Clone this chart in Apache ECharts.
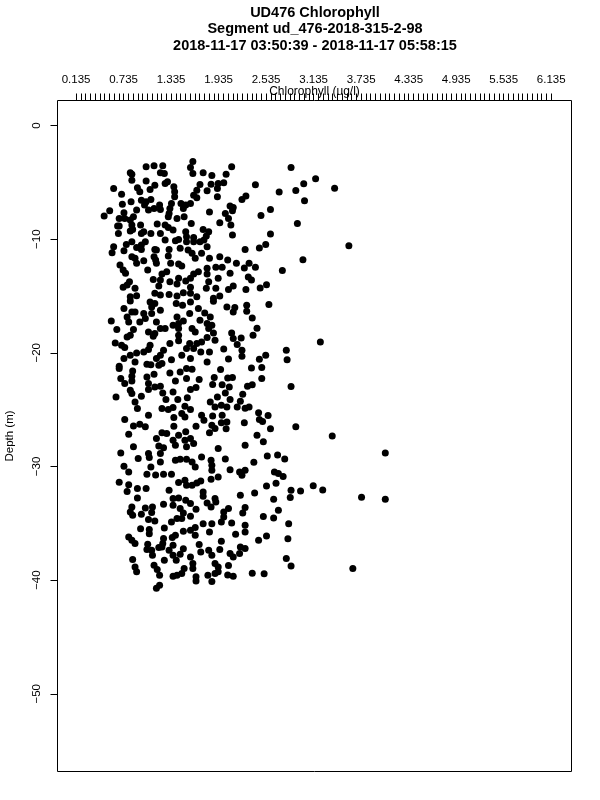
<!DOCTYPE html>
<html>
<head>
<meta charset="utf-8">
<style>html,body{margin:0;padding:0;background:#fff}#c{width:600px;height:800px}</style>
<script src="https://cdn.jsdelivr.net/npm/echarts@6/dist/echarts.min.js"></script>
</head>
<body>
<div id="c"></div>
<script>
const titleLines = ['UD476 Chlorophyll', 'Segment ud_476-2018-315-2-98', '2018-11-17 03:50:39 - 2018-11-17 05:58:15'];
const xLabelTicks = [0.135, 0.735, 1.335, 1.935, 2.535, 3.135, 3.735, 4.335, 4.935, 5.535, 6.135];
const yLabelTicks = [0, -10, -20, -30, -40, -50];

const chlUpperLeft = [1.61,1.02,1.12,1.23,1.58,2.10,1.61,1.74,1.85,2.03,.82,.84,1.20,1.25,.84,1.02,1.29,1.26,1.13,.61,
1.70,1.84,2.00,1.93,1.92,1.07,.91,.94,.71,1.37,1.38,1.38,1.66,1.79,1.62,1.66,1.92,.72,.83,.96,
1.02,1.08,1.00,1.05,1.12,1.19,1.20,1.34,1.32,1.31,1.30,1.46,1.52,1.58,1.49,1.82,2.08,2.12,2.02,2.06,
2.09,2.11,.49,.56,.74,.90,.68,.75,.82,.86,.66,.68,.84,.95,1.16,.67,.82,.85,.96,.99,
1.08,1.20,1.26,1.30,1.36,1.41,1.50,1.59,1.95,2.11,1.74,1.81,1.52,1.53,1.53,1.62,1.62,1.78,1.75,1.70,
.84,.77,.61,.59,.74,1.01,.96,.90,.96,1.13,1.15,1.12,1.14,1.26,1.39,1.43,1.45,1.31,1.30,1.55,
1.60,1.64,1.72,1.79,1.82,1.95,2.05,2.16,.69,.73,.76,.88,.84,.90,.99,1.15,1.33,1.43,1.47,1.04,
1.68,1.62,1.58,1.79,1.79,1.90,1.98,2.08,1.28,1.22,1.11,1.20,1.18,1.43,1.32,1.41,1.52,1.81,1.93,.81,
.78,.73,.88,1.58,1.78,1.90,2.12,2.06,1.13,1.20,1.31,1.41,1.49,1.58,1.66,1.95,.82,.90,1.87];
const depthUpperLeft = [-3.17,-3.64,-3.55,-3.55,-3.69,-3.64,-4.22,-4.16,-4.40,-4.28,-4.16,-4.28,-4.16,-4.22,-4.81,-4.89,-4.95,-5.10,-5.25,-5.54,
-5.19,-5.16,-5.04,-5.10,-5.54,-5.63,-5.48,-5.83,-6.04,-5.39,-5.83,-6.27,-5.69,-5.74,-6.13,-6.36,-6.27,-6.92,-6.71,-6.57,
-6.71,-6.51,-7.00,-7.44,-7.30,-7.00,-7.39,-6.86,-7.30,-7.74,-8.03,-6.86,-7.00,-6.86,-7.30,-7.62,-7.09,-7.21,-7.74,-8.18,
-8.76,-7.50,-7.97,-7.50,-7.68,-7.44,-8.18,-8.18,-8.32,-8.03,-8.85,-8.85,-8.76,-8.76,-8.67,-9.50,-9.29,-9.14,-9.50,-9.35,
-9.50,-9.50,-8.76,-8.97,-9.20,-8.18,-8.03,-8.62,-8.56,-9.64,-9.14,-9.35,-9.35,-9.79,-10.23,-9.85,-10.23,-9.73,-10.08,-10.23,
-10.23,-10.46,-10.67,-11.19,-11.02,-10.23,-10.52,-10.73,-10.90,-10.90,-10.96,-11.55,-11.84,-10.08,-10.14,-10.02,-10.81,-10.90,-11.49,-10.96,
-11.25,-11.69,-11.25,-10.67,-11.69,-11.55,-11.84,-12.13,-12.28,-12.72,-13.01,-11.69,-11.55,-12.13,-11.90,-12.13,-12.13,-12.19,-12.37,-12.72,
-12.86,-13.07,-13.45,-12.57,-13.07,-12.48,-12.48,-13.01,-12.86,-13.07,-13.54,-13.60,-14.12,-13.45,-13.74,-13.95,-13.69,-13.74,-13.45,-13.74,
-14.04,-14.24,-14.33,-14.24,-14.33,-14.33,-14.12,-14.42,-14.77,-14.92,-14.86,-15.00,-14.71,-14.77,-15.06,-15.00,-15.06,-14.97,-15.21];

const chlMiddleLeft = [.82,1.07,1.13,1.09,1.40,1.48,1.58,1.87,2.04,2.14,2.12,.74,.84,.88,.78,.80,.99,1.09,1.20,.94,
1.01,1.57,1.68,1.41,1.49,1.43,1.76,1.83,1.70,1.79,1.85,1.81,.58,1.15,1.20,1.26,1.36,1.43,1.60,1.64,
.65,.86,.82,.78,1.05,1.13,1.11,1.87,2.10,2.12,1.89,1.43,1.43,1.79,1.72,1.66,.63,.71,.75,1.32,
1.07,1.05,.99,1.57,1.53,1.47,1.62,2.17,2.00,1.71,1.82,2.06,1.79,1.24,1.20,1.15,.90,.82,.74,.88,
1.58,1.34,1.22,1.03,1.08,1.18,.68,.68,.85,.84,.84,.70,.75,1.03,1.12,1.05,1.05,1.13,1.20,1.32,
1.45,1.53,1.60,1.53,1.96,1.39,1.69,1.88,2.05,2.11,1.86,1.98,2.07,1.58,1.65,.82,.84,.64,.96,.88,
.91,1.23,1.36,1.27,1.42,1.54,2.02,1.92,1.83,2.08,2.17,1.97,1.89,2.04,1.22,1.30,1.36,1.51,1.58,1.47,
1.51,1.05,1.98,1.86,1.72,1.75,.75,1.37,.86,.94,1.01,1.37,1.65,1.97,2.04,1.85,1.89,2.03,.80,1.82,
1.52,1.22,1.28,1.15,1.43,1.36,.86,1.18,1.24,1.39,1.51,1.58,1.62,1.53,1.93];
const depthMiddleLeft = [-15.44,-15.53,-15.67,-15.97,-15.67,-15.82,-15.53,-15.47,-15.97,-16.02,-16.41,-16.11,-16.41,-16.41,-16.85,-17.28,-16.55,-16.55,-16.26,-17.28,
-16.99,-16.55,-16.11,-16.85,-17.20,-17.43,-16.49,-16.85,-17.14,-17.43,-17.58,-17.87,-17.20,-17.28,-17.87,-17.87,-17.58,-17.87,-17.87,-18.16,
-17.96,-17.96,-18.46,-18.60,-18.16,-18.31,-18.54,-18.25,-18.25,-18.75,-18.90,-18.46,-18.95,-18.66,-19.04,-19.19,-19.13,-19.34,-19.54,-19.19,
-19.34,-19.72,-19.92,-19.19,-19.63,-20.21,-19.63,-19.28,-19.66,-19.92,-19.92,-20.54,-20.80,-19.78,-20.21,-20.51,-20.01,-20.21,-20.51,-20.80,
-20.51,-20.60,-20.95,-21.01,-21.06,-21.09,-21.18,-21.39,-21.59,-22.06,-22.47,-22.27,-22.71,-22.12,-21.88,-22.71,-23.23,-23.00,-22.94,-21.77,
-21.68,-21.39,-21.45,-22.27,-21.47,-22.47,-22.35,-22.18,-22.21,-22.18,-22.79,-22.82,-23.00,-23.23,-23.06,-23.29,-23.58,-23.88,-23.82,-24.32,
-24.90,-23.53,-23.44,-24.11,-24.11,-23.96,-23.53,-23.88,-24.32,-24.11,-24.76,-24.61,-24.76,-24.76,-24.90,-24.99,-24.81,-24.70,-24.99,-25.34,
-25.64,-25.49,-25.49,-25.55,-25.49,-25.93,-25.87,-25.69,-26.43,-26.28,-26.51,-26.46,-26.46,-26.16,-26.08,-26.37,-26.66,-26.69,-27.16,-27.04,
-26.95,-27.04,-27.10,-27.54,-27.25,-27.69,-28.27,-28.21,-28.36,-28.13,-27.69,-27.54,-27.98,-28.27,-28.42];

const chlLowerLeft = [.70,.92,1.05,1.06,1.20,1.20,1.39,1.45,1.53,1.60,1.64,1.72,1.84,1.85,1.85,2.02,.74,.80,1.08,1.03,
1.14,1.24,1.34,2.08,2.20,1.84,1.93,.68,.80,1.43,1.51,1.53,1.60,1.66,1.71,.78,.91,1.02,1.31,.91,
1.74,1.74,1.36,1.43,1.52,1.58,1.79,1.84,1.89,1.90,.84,.82,.85,1.01,1.10,1.09,1.24,.96,1.65,1.36,
1.45,1.49,1.58,2.06,2.00,1.05,1.13,1.34,1.41,1.47,1.74,1.85,2.00,1.97,2.10,.95,1.06,1.06,1.25,1.49,
1.58,1.64,1.64,1.39,1.35,1.82,2.15,.80,.84,.88,1.24,1.23,1.97,1.04,1.03,1.09,1.10,1.18,1.22,1.36,
1.31,1.36,1.40,1.45,1.49,1.69,1.71,1.81,1.85,1.95,2.20,2.12,2.08,1.58,.85,1.25,.88,.90,1.12,1.16,
1.19,1.61,1.61,1.89,1.93,2.06,1.93,1.89,1.50,1.47,1.41,1.36,1.80,2.05,2.12,1.65,1.65,1.85,1.19,1.15];
const depthLowerLeft = [-28.81,-29.31,-28.87,-29.22,-28.87,-29.61,-29.46,-29.37,-29.37,-29.61,-30.05,-29.17,-29.46,-29.90,-30.34,-29.34,-29.99,-30.48,-30.05,-30.69,
-30.75,-30.69,-30.69,-30.28,-30.48,-31.13,-30.92,-31.39,-31.60,-31.42,-31.22,-31.66,-31.66,-31.45,-31.28,-32.21,-31.95,-31.95,-32.10,-32.77,
-32.24,-32.62,-32.83,-32.77,-32.98,-33.27,-33.21,-33.56,-32.83,-33.12,-33.56,-34.00,-34.29,-33.65,-33.56,-34.06,-33.33,-34.21,-33.77,-33.41,
-33.71,-34.09,-34.38,-33.71,-34.00,-34.67,-34.79,-34.88,-34.59,-34.59,-35.03,-35.03,-34.44,-34.88,-34.97,-35.47,-35.55,-35.91,-35.41,-35.70,
-35.61,-35.38,-36.05,-36.05,-36.26,-35.76,-35.96,-36.20,-36.49,-36.78,-36.34,-36.78,-36.58,-36.84,-37.31,-37.37,-37.81,-37.14,-37.08,-36.93,
-37.37,-37.81,-38.25,-37.72,-37.25,-36.87,-37.52,-37.37,-37.81,-37.31,-37.66,-37.96,-37.66,-37.96,-38.19,-38.25,-38.84,-39.27,-38.69,-39.07,
-39.57,-38.54,-38.98,-38.54,-38.84,-38.72,-39.27,-39.42,-38.98,-39.42,-39.57,-39.66,-39.57,-39.54,-39.66,-39.71,-40.07,-40.12,-40.45,-40.71];

const chlUpperRight = [2.85,2.40,2.23,2.28,2.70,2.91,3.01,3.16,3.40,3.02,2.47,2.59,2.93,2.59,3.58,2.53,2.45,2.27,3.00,2.32,2.26,2.40,2.74,2.31,2.35,2.54,2.46,2.28];
const depthUpperRight = [-3.69,-5.22,-6.51,-6.21,-5.86,-5.72,-5.13,-4.69,-5.51,-6.62,-7.91,-7.39,-8.62,-9.55,-10.58,-10.46,-10.78,-10.90,-11.81,-12.13,-12.54,-12.48,-12.75,-13.33,-13.60,-14.01,-14.30,-14.42];

const chlMiddleRight = [2.29,2.57,2.29,2.36,2.42,2.37,2.22,3.22,2.79,2.23,2.23,2.53,2.45,2.80,2.35,2.48,2.48,2.30,2.36,2.85,2.24,2.21,2.27,2.32,2.44,2.56,2.45,2.49,2.26,2.59,2.91,2.42,3.37,2.50,2.27];
const depthMiddleRight = [-15.82,-15.76,-16.35,-16.93,-17.84,-18.46,-18.69,-19.04,-19.78,-19.78,-20.30,-20.21,-20.57,-20.62,-21.33,-21.30,-22.27,-22.94,-22.82,-22.97,-23.64,-24.26,-24.87,-24.76,-25.28,-25.52,-25.87,-26.05,-26.16,-26.69,-26.51,-27.25,-27.31,-27.83,-28.13];

const chlLowerRight = [4.04,2.55,2.68,2.77,2.38,2.27,2.23,2.64,2.69,2.75,2.66,2.54,2.85,2.97,3.13,3.25,2.39,3.74,4.04,2.84,2.63,2.21,2.27,2.24,2.69,2.50,2.63,2.82,2.27,2.27,2.54,2.44,2.81,2.27,2.21,2.79,2.85,3.63,2.36,2.51];
const depthLowerRight = [-28.81,-29.08,-28.99,-29.34,-29.63,-30.34,-30.78,-30.48,-30.63,-30.89,-31.48,-31.72,-32.10,-32.15,-31.69,-32.07,-32.33,-32.71,-32.89,-32.74,-32.89,-32.54,-33.62,-34.09,-33.85,-34.41,-34.53,-35.03,-35.17,-35.76,-36.11,-36.49,-36.37,-37.22,-37.08,-38.10,-38.75,-38.98,-39.39,-39.45];

const chlorophyll = [].concat(chlUpperLeft, chlMiddleLeft, chlLowerLeft, chlUpperRight, chlMiddleRight, chlLowerRight);
const depth = [].concat(depthUpperLeft, depthMiddleLeft, depthLowerLeft, depthUpperRight, depthMiddleRight, depthLowerRight);
const points = chlorophyll.map((c, i) => [c, depth[i]]);

const minorStep = 0.06;
const xMinorTicks = [];
for (let i = 0; i <= 100; i++) xMinorTicks.push(+(xLabelTicks[0] + i * minorStep).toFixed(3));

const font = '"Liberation Sans", Helvetica, Arial, sans-serif';
const chart = echarts.init(document.getElementById('c'), null, {renderer: 'canvas'});
chart.setOption({
  animation: false,
  backgroundColor: '#fff',
  title: titleLines.map((t, i) => ({
    text: t, left: 315, top: 4 + i * 16.7, textAlign: 'center', padding: 0,
    textStyle: {fontFamily: font, fontSize: 14.5, fontWeight: 'bold', color: '#000', lineHeight: 17}
  })),
  grid: {left: 57.5, right: 28.5, top: 100.5, bottom: 28.5, show: true, borderColor: '#000', borderWidth: 1,
    backgroundColor: 'transparent', containLabel: false, outerBoundsMode: 'none'},
  xAxis: {
    type: 'value', position: 'top', min: -0.099, max: 6.391,
    name: 'Chlorophyll (ug/l)', nameLocation: 'middle', nameGap: 3, nameMoveOverlap: false,
    nameTextStyle: {fontFamily: font, fontSize: 12, color: '#000'},
    axisLine: {show: false, onZero: false}, splitLine: {show: false},
    axisTick: {show: true, length: 7, lineStyle: {color: '#000', width: 1}, customValues: xMinorTicks},
    axisLabel: {show: true, margin: 15, fontFamily: font, fontSize: 11.5, color: '#000',
      customValues: xLabelTicks, formatter: v => (+v).toFixed(3), hideOverlap: false, showMinLabel: true, showMaxLabel: true}
  },
  yAxis: {
    type: 'value', min: -56.84, max: 2.2,
    name: 'Depth (m)', nameLocation: 'middle', nameGap: 42, nameRotate: 90, nameMoveOverlap: false,
    nameTextStyle: {fontFamily: font, fontSize: 11.5, color: '#000'},
    axisLine: {show: false, onZero: false}, splitLine: {show: false},
    axisTick: {show: true, length: 7, lineStyle: {color: '#000', width: 1}, customValues: yLabelTicks},
    axisLabel: {show: true, rotate: 90, margin: 15, fontFamily: font, fontSize: 11.5, color: '#000',
      customValues: yLabelTicks, formatter: v => String(v).replace('-', '\u2212'), hideOverlap: false, showMinLabel: true, showMaxLabel: true}
  },
  series: [{type: 'scatter', data: points, symbol: 'circle', symbolSize: 7, silent: true, itemStyle: {color: '#000', opacity: 1}}]
});
</script>
</body>
</html>
